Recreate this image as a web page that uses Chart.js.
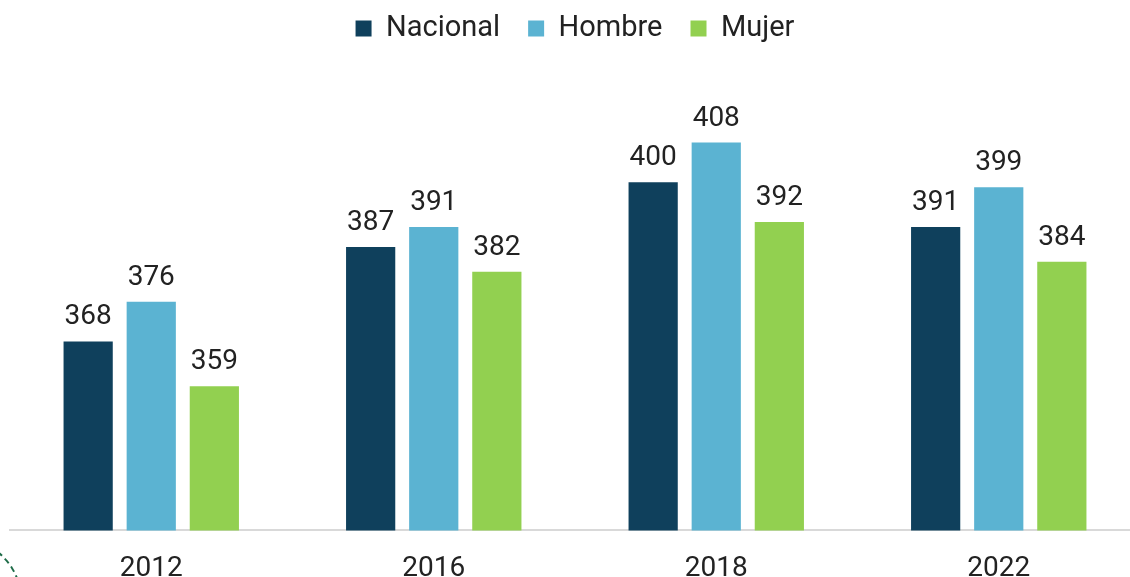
<!DOCTYPE html>
<html>
<head>
<meta charset="utf-8">
<script src="https://cdn.jsdelivr.net/npm/chart.js@4"></script>
<style>
  html, body { margin: 0; padding: 0; background: #fff; overflow: hidden; }
  #wrap { position: relative; width: 1130px; height: 577px; overflow: hidden; }
  #deco { position: absolute; left: -102px; top: 538px; width: 120px; height: 120px;
          border: 2px dashed #1d6b47; border-radius: 50%; }
</style>
</head>
<body>
<div id="wrap">
  <canvas id="scoreChart" width="1140" height="600"></canvas>
  <div id="deco"></div>
</div>
<script>
// categorias y series
const years = ['2012', '2016', '2018', '2022'];
const nacional = [368, 387, 400, 391];
const hombre = [376, 391, 408, 399];
const mujer = [359, 382, 392, 384];

const FONT = 'Roboto, "Noto Sans", sans-serif';

// etiquetas sobre las barras
const barLabels = {
  id: 'barLabels',
  afterDatasetsDraw(chart) {
    const ctx = chart.ctx;
    ctx.save();
    ctx.font = '28px ' + FONT;
    ctx.fillStyle = '#222222';
    ctx.textAlign = 'center';
    ctx.textBaseline = 'alphabetic';
    chart.data.datasets.forEach((ds, i) => {
      chart.getDatasetMeta(i).data.forEach((bar, j) => {
        ctx.fillText(ds.data[j], bar.x, bar.y - 17);
      });
    });
    ctx.restore();
  }
};

new Chart(document.getElementById('scoreChart').getContext('2d'), {
  type: 'bar',
  data: {
    labels: years,
    datasets: [
      { label: 'Nacional', data: nacional, backgroundColor: '#0f405c' },
      { label: 'Hombre', data: hombre, backgroundColor: '#5bb3d2' },
      { label: 'Mujer', data: mujer, backgroundColor: '#92d050' }
    ]
  },
  options: {
    responsive: false,
    animation: false,
    categoryPercentage: 0.67,
    barPercentage: 0.78,
    layout: { padding: { left: 10, right: 0, top: -14, bottom: 0 } },
    plugins: {
      legend: {
        position: 'top',
        labels: {
          boxWidth: 16,
          boxHeight: 16,
          padding: 28,
          color: '#222222',
          font: { family: FONT, size: 29 }
        }
      },
      tooltip: { enabled: false }
    },
    scales: {
      x: {
        grid: { display: false },
        border: { display: true, color: '#d9d9d9', width: 2 },
        ticks: { color: '#222222', padding: 14, font: { family: FONT, size: 28 } }
      },
      y: {
        display: false,
        min: 330,
        max: 426
      }
    }
  },
  plugins: [barLabels]
});
</script>
</body>
</html>
